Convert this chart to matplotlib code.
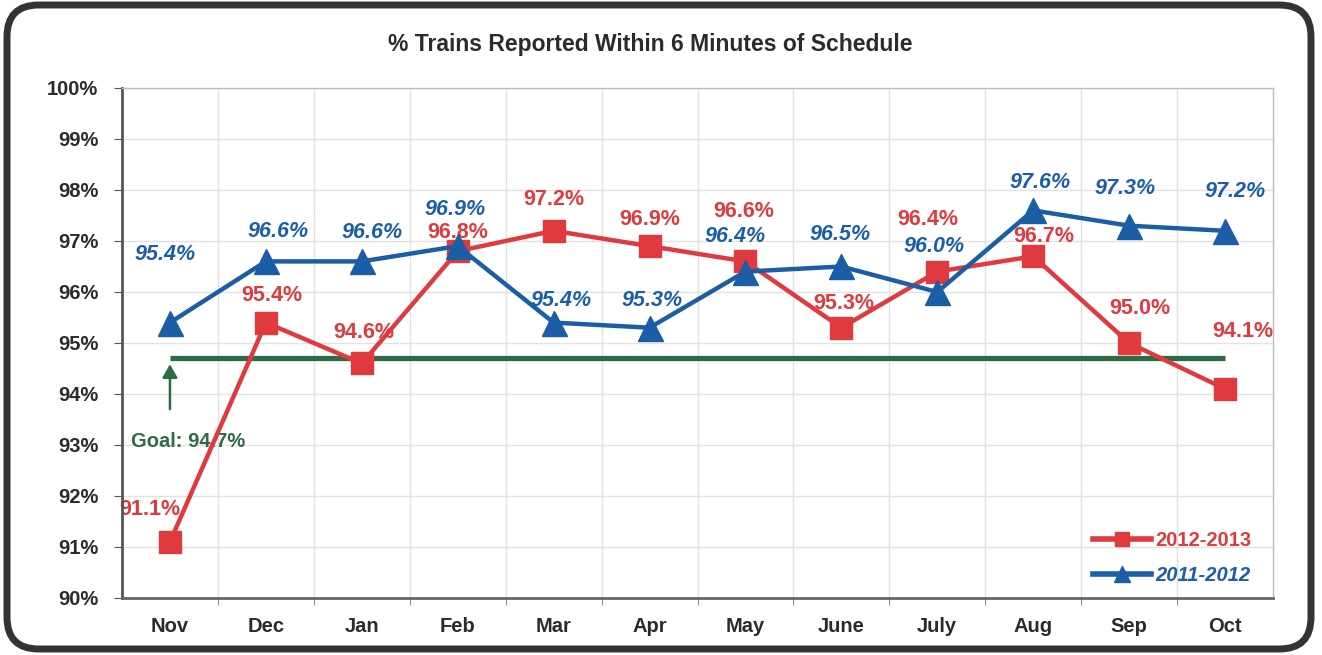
import matplotlib
matplotlib.use("Agg")
import matplotlib.pyplot as plt
from matplotlib.patches import FancyBboxPatch
from matplotlib.lines import Line2D

plt.rcParams['font.family'] = ['Liberation Sans', 'DejaVu Sans']

# ---- data ----
months = ["Nov", "Dec", "Jan", "Feb", "Mar", "Apr", "May", "June", "July", "Aug", "Sep", "Oct"]
s2012_2013 = [91.1, 95.4, 94.6, 96.8, 97.2, 96.9, 96.6, 95.3, 96.4, 96.7, 95.0, 94.1]
s2011_2012 = [95.4, 96.6, 96.6, 96.9, 95.4, 95.3, 96.4, 96.5, 96.0, 97.6, 97.3, 97.2]
goal = 94.7
y_ticks = [90, 91, 92, 93, 94, 95, 96, 97, 98, 99, 100]
title = "% Trains Reported Within 6 Minutes of Schedule"

# label offsets (pixels, dx, dy-up) – layout only
red_off = [(-20, 32), (6, 27), (2, 31), (0, 19), (0, 31), (0, 27), (-2, 50),
           (2, 24), (-10, 52), (11, 20), (11, 34), (18, 57)]
blue_off = [(-5, 68), (12, 30), (10, 29), (-3, 37), (7, 22), (3, 27), (-10, 35),
            (-1, 32), (-3, 45), (7, 28), (-4, 37), (10, 39)]

RED = "#e0393e"
BLUE = "#1b5ea7"
GREEN = "#2e6b45"
TXT = "#2b2b2b"

W, H = 1322, 655
fig = plt.figure(figsize=(W / 100, H / 100), dpi=100)

# rounded frame
frame = FancyBboxPatch((7 / W, 6 / H), (1311 - 7) / W, (650 - 6) / H,
                       boxstyle="round,pad=0,rounding_size=0.024",
                       transform=fig.transFigure, facecolor="white",
                       edgecolor="#333333", linewidth=5, mutation_aspect=W / H, zorder=-5)
fig.patches.append(frame)

ax = fig.add_axes([122 / W, 1 - 598 / H, (1273 - 122) / W, (598 - 88) / H])
ax.set_facecolor("none")
x = list(range(len(months)))

ax.set_xlim(-0.5, len(months) - 0.5)
ax.set_ylim(90, 100)

ax.set_yticks(y_ticks)
ax.set_yticklabels([f"{v}%" for v in y_ticks], fontsize=14.5, fontweight="bold", color=TXT)
ax.set_xticks(x)
ax.set_xticklabels(months, fontsize=14.5, fontweight="bold", color=TXT)
ax.set_xticks([i + 0.5 for i in x[:-1]], minor=True)
ax.tick_params(axis="x", which="major", length=0, pad=14)
ax.tick_params(axis="x", which="minor", length=5, color="#777777", direction="out")
ax.tick_params(axis="y", which="major", length=6, color="#555555", direction="out", pad=11)

ax.grid(True, axis="y", color="#e2e2e2", linewidth=1, zorder=0)
ax.grid(True, axis="x", which="minor", color="#e2e2e2", linewidth=1, zorder=0)

for side in ["top", "right"]:
    ax.spines[side].set_color("#bbbbbb")
    ax.spines[side].set_linewidth(1)
ax.spines["left"].set_color("#555555")
ax.spines["left"].set_linewidth(2)
ax.spines["bottom"].set_color("#666666")
ax.spines["bottom"].set_linewidth(2)

# data labels (beneath lines)
for i, v in enumerate(s2012_2013):
    dx, dy = red_off[i]
    ax.annotate(f"{v:.1f}%", (i, v), xytext=(dx * 0.72, dy * 0.72), textcoords="offset points",
                ha="center", va="center", fontsize=15.5, fontweight="bold", color=RED, zorder=2)
for i, v in enumerate(s2011_2012):
    dx, dy = blue_off[i]
    ax.annotate(f"{v:.1f}%", (i, v), xytext=(dx * 0.72, dy * 0.72), textcoords="offset points",
                ha="center", va="center", fontsize=15.5, fontweight="bold", fontstyle="italic",
                color=BLUE, zorder=2)

# goal line
ax.plot([x[0], x[-1]], [goal, goal], color=GREEN, linewidth=3.8, zorder=3, solid_capstyle="butt")
ax.annotate("", xy=(0, goal - 0.06), xytext=(0, goal - 1.05),
            arrowprops=dict(arrowstyle="-|>,head_width=0.45,head_length=0.8",
                            color=GREEN, lw=1.8), zorder=3)
ax.annotate(f"Goal: {goal}%", (0, goal), xytext=(0.72 * 18, -0.72 * 83), textcoords="offset points",
            ha="center", va="center", fontsize=14.5, fontweight="bold", color=GREEN, zorder=3)

# series
ax.plot(x, s2012_2013, color=RED, linewidth=3.2, marker="s", markersize=16,
        markeredgecolor=RED, zorder=4, label="2012-2013")
ax.plot(x, s2011_2012, color=BLUE, linewidth=3.2, marker="^", markersize=18,
        markeredgecolor=BLUE, zorder=5, label="2011-2012")

handles = [Line2D([], [], color=RED, lw=4, marker="s", markersize=10),
           Line2D([], [], color=BLUE, lw=4, marker="^", markersize=11)]
leg = ax.legend(handles, ["2012-2013", "2011-2012"], loc="lower right",
                bbox_to_anchor=(0.997, -0.01), frameon=False,
                handlelength=2.9, handletextpad=0.2, labelspacing=0.8,
                prop=dict(size=14.5, weight="bold"))
leg.get_texts()[0].set_color(RED)
leg.get_texts()[1].set_color(BLUE)
leg.get_texts()[1].set_fontstyle("italic")

fig.text(650 / W, 1 - 45 / H, title, ha="center", va="center", fontsize=16.5,
         fontweight="bold", color=TXT)

fig.savefig("out.png", dpi=100)
